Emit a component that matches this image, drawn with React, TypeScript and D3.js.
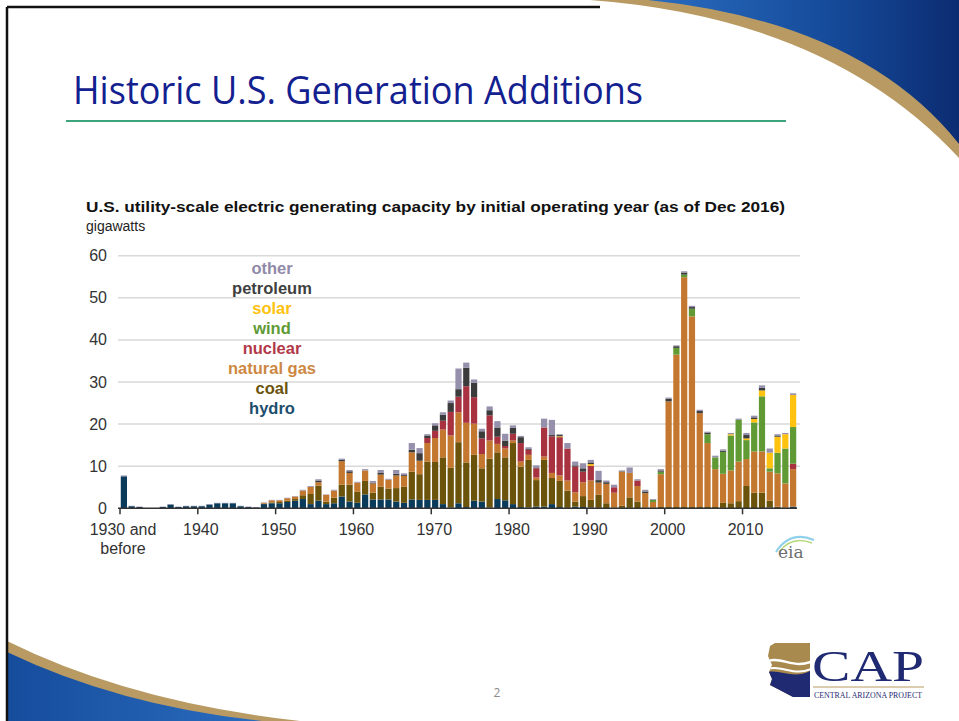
import React from 'react';
import * as d3 from 'd3';

const years: number[] = d3.range(1930, 2017);
const tickYears = [1930, 1940, 1950, 1960, 1970, 1980, 1990, 2000, 2010];
const yTicks = [0, 10, 20, 30, 40, 50, 60];

const hydro = [
  7.6, 0.5, 0.3, 0, 0, 0.3, 0.9, 0.3, 0.5, 0.5,
  0.5, 0.9, 1.2, 1.2, 1.2, 0.5, 0.3, 0.2, 1.0, 1.2,
  1.2, 1.5, 1.8, 2.2, 1.0, 1.8, 1.0, 1.2, 2.8, 1.6,
  1.3, 3.3, 2.1, 2.1, 2.1, 1.6, 1.3, 2.1, 2.0, 2.0,
  2.0, 1.0, 0.2, 1.2, 0.3, 1.8, 1.6, 0.2, 2.2, 1.9,
  1.0, 0.3, 0.2, 0.4, 0.4, 1.0, 0.3, 0.1, 0.4, 0.3,
  0.2, 0.1, 0, 0, 0.1, 0.1, 0, 0, 0, 0,
  0, 0, 0, 0, 0, 0, 0, 0.1, 0, 0,
  0, 0, 0, 0.2, 0, 0, 0.4,
];
const coal = [
  0, 0, 0, 0, 0, 0, 0, 0, 0, 0,
  0, 0, 0, 0, 0, 0, 0, 0, 0.1, 0.2,
  0.3, 0.3, 0.4, 0.9, 2.4, 3.6, 0.6, 1.3, 2.8, 4.0,
  2.6, 3.2, 1.6, 3.0, 2.6, 3.2, 3.8, 6.6, 6.1, 9.1,
  9.0, 11.1, 9.4, 14.5, 10.6, 10.9, 7.9, 11.6, 11.1, 10.2,
  14.5, 9.6, 11.3, 6.3, 11.1, 6.2, 6.2, 4.1, 1.2, 2.6,
  1.8, 3.1, 1.2, 0.2, 0.5, 2.5, 1.6, 0.2, 0.1, 0.3,
  0.3, 0.3, 0.3, 0.3, 0.3, 0.3, 0.3, 1.2, 1.2, 1.7,
  5.3, 3.7, 3.7, 1.6, 0.4, 0.2, 0,
];
const naturalGas = [
  0, 0, 0, 0, 0, 0, 0, 0, 0, 0,
  0, 0, 0, 0, 0, 0, 0, 0, 0.2, 0.5,
  0.4, 0.6, 0.6, 1.1, 1.7, 0.8, 1.6, 1.7, 5.6, 2.8,
  2.2, 2.5, 2.2, 2.9, 2.1, 3.0, 2.6, 4.6, 3.2, 4.4,
  5.7, 6.6, 7.7, 7.1, 9.4, 7.4, 3.4, 4.3, 2.0, 2.1,
  0.6, 1.2, 1.2, 0.6, 0.8, 1.2, 1.3, 2.4, 2.2, 3.3,
  4.6, 2.9, 4.6, 3.5, 8.1, 5.8, 3.7, 3.4, 1.4, 7.8,
  25.1, 36.2, 54.6, 45.3, 22.3, 15.2, 9.0, 6.9, 7.8, 9.4,
  6.4, 9.8, 9.8, 6.9, 7.9, 5.7, 8.9,
];
const nuclear = [
  0, 0, 0, 0, 0, 0, 0, 0, 0, 0,
  0, 0, 0, 0, 0, 0, 0, 0, 0, 0,
  0, 0, 0, 0, 0, 0, 0, 0, 0, 0,
  0, 0, 0, 0, 0, 0, 0, 0, 0, 1.2,
  1.7, 2.1, 5.6, 3.7, 8.7, 6.3, 3.7, 6.0, 1.7, 0.6,
  1.6, 4.4, 1.2, 2.2, 6.9, 8.7, 9.1, 7.6, 6.1, 2.5,
  3.5, 0, 0, 1.3, 0, 0, 1.3, 0, 0, 0,
  0, 0, 0, 0, 0, 0, 0, 0, 0, 0,
  0, 0, 0, 0, 0, 0, 1.3,
];
const wind = [
  0, 0, 0, 0, 0, 0, 0, 0, 0, 0,
  0, 0, 0, 0, 0, 0, 0, 0, 0, 0,
  0, 0, 0, 0, 0, 0, 0, 0, 0, 0,
  0, 0, 0, 0, 0, 0, 0, 0, 0, 0,
  0, 0, 0, 0, 0, 0, 0, 0, 0, 0,
  0, 0, 0, 0, 0, 0, 0, 0, 0, 0,
  0, 0, 0, 0, 0, 0, 0, 0, 0.5, 0.6,
  0, 1.6, 0.6, 1.8, 0, 2.1, 2.8, 5.2, 8.3, 9.9,
  4.5, 6.9, 13.1, 0.8, 4.9, 8.3, 8.7,
];
const solar = [
  0, 0, 0, 0, 0, 0, 0, 0, 0, 0,
  0, 0, 0, 0, 0, 0, 0, 0, 0, 0,
  0, 0, 0, 0, 0, 0, 0, 0, 0, 0,
  0, 0, 0, 0, 0, 0, 0, 0, 0, 0,
  0, 0, 0, 0, 0, 0, 0, 0, 0, 0,
  0, 0, 0, 0, 0, 0, 0.2, 0, 0, 0,
  0.4, 0, 0, 0, 0, 0, 0, 0, 0, 0,
  0, 0, 0, 0, 0, 0, 0, 0, 0.3, 0,
  0.4, 0.8, 1.4, 3.7, 3.8, 3.4, 7.6,
];
const petroleum = [
  0, 0, 0, 0, 0, 0, 0, 0, 0, 0,
  0, 0, 0, 0, 0, 0, 0, 0, 0, 0,
  0, 0, 0, 0, 0, 0.4, 0, 0, 0.3, 0.4,
  0, 0, 0.2, 0.5, 0, 0.4, 0.2, 0.6, 1.8, 0.6,
  1.3, 1.4, 2.1, 1.8, 4.4, 3.4, 1.7, 1.2, 2.2, 1.3,
  1.4, 1.4, 0.2, 0.2, 0, 0.3, 0.3, 0, 0.3, 0.8,
  0.4, 0.6, 0.4, 0, 0.1, 0, 0, 0.4, 0, 0.3,
  0.6, 0.4, 0.5, 0.4, 0.5, 0.4, 0, 0.3, 0, 0,
  0.8, 0.4, 0.6, 0, 0.3, 0, 0,
];
const other = [
  0.2, 0.1, 0.1, 0, 0, 0.1, 0.1, 0.1, 0.1, 0.1,
  0.1, 0.1, 0.1, 0.1, 0.1, 0.1, 0.1, 0.1, 0.1, 0.1,
  0.1, 0.1, 0.1, 0.2, 0.2, 0.3, 0.1, 0.2, 0.3, 0.3,
  0.2, 0.3, 0.4, 0.6, 0.2, 0.9, 0.4, 1.6, 1.2, 0.3,
  0.5, 0.6, 0.6, 4.9, 1.2, 0.8, 0.6, 0.9, 1.5, 1.6,
  0.6, 0.3, 0.4, 0.5, 2.1, 3.6, 0.2, 1.3, 0.9, 1.2,
  0.6, 2.2, 0.4, 0.6, 0.2, 1.3, 0.3, 0.4, 0.2, 0.3,
  0.3, 0.2, 0.3, 0.3, 0.3, 0.2, 0.4, 0.3, 0.3, 0.3,
  0.5, 0.4, 0.6, 1.0, 0.3, 0.3, 0.4,
];

const seriesKeys = ['hydro', 'coal', 'natural gas', 'nuclear', 'wind', 'solar', 'petroleum', 'other'];
const seriesValues = [hydro, coal, naturalGas, nuclear, wind, solar, petroleum, other];
const barColors = ['#0b3b5a', '#6b530b', '#c4782f', '#a8323f', '#5f9a35', '#ffc20e', '#3b3b3b', '#9690ad'];
const legendColors = ['#1d4e6e', '#6b530b', '#cc8843', '#b2394a', '#5f9a35', '#ffc20e', '#3f3f3f', '#9189a8'];

export default function App() {
  const rows = years.map((yr, i) => {
    const r: any = { year: yr };
    seriesKeys.forEach((k, j) => (r[k] = seriesValues[j][i]));
    return r;
  });
  const stacked = d3.stack<any>().keys(seriesKeys)(rows);

  const x = d3.scaleBand<number>().domain(years).range([120, 797]).paddingInner(0.2).paddingOuter(0.1);
  const y = d3.scaleLinear().domain([0, 60]).range([508.3, 255.7]);
  const step = x.step();
  const tickX = (yr: number) => (x(yr) as number) - step * 0.1;

  const axisFont = '"Liberation Sans", Arial, sans-serif';
  const legendOrder = [7, 6, 5, 4, 3, 2, 1, 0];

  return (
    <svg width={959} height={721} style={{ position: 'absolute', left: 0, top: 0, background: '#fff' }}>
      <defs>
        <linearGradient id="blueTR" x1="0" y1="0" x2="1" y2="0">
          <stop offset="0" stopColor="#2a6cc0" />
          <stop offset="0.6" stopColor="#154a99" />
          <stop offset="1" stopColor="#0c2c72" />
        </linearGradient>
        <linearGradient id="blueBL" x1="0" y1="0" x2="1" y2="0">
          <stop offset="0" stopColor="#164c9c" />
          <stop offset="1" stopColor="#2a6cbf" />
        </linearGradient>
        <clipPath id="azClip">
          <path d="M770,646 L775,643 L810,643 L810,697 L793,697 L770,685 L772,679 L769,672 L772,665 L768,656 Z" />
        </clipPath>
      </defs>
      <rect x={0} y={0} width={959} height={721} fill="#ffffff" />
      {/* top-right swoosh */}
      <path d="M590,0 Q830,18 959,158 L959,0 Z" fill="#b89a62" />
      <path d="M648,0 Q862,22 959,144 L959,0 Z" fill="url(#blueTR)" />
      {/* bottom-left swoosh */}
      <path d="M7,641 Q130,702 300,721 L7,721 Z" fill="#b89a62" />
      <path d="M7,652 Q120,706 262,721 L7,721 Z" fill="url(#blueBL)" />
      {/* frame */}
      <line x1={7} y1={7} x2={7} y2={721} stroke="#111" strokeWidth={2.5} />
      <line x1={7} y1={7} x2={600} y2={7} stroke="#111" strokeWidth={2.5} />

      {/* slide title */}
      <text x={73} y={104} fontFamily='"Open Sans", sans-serif' fontSize={38} fill="#13208f" textLength={570} lengthAdjust="spacingAndGlyphs">
        Historic U.S. Generation Additions
      </text>
      <line x1={66} y1={121} x2={786} y2={121} stroke="#3da37c" strokeWidth={2} />

      {/* chart title */}
      <text x={86} y={212} fontFamily={axisFont} fontWeight="bold" fontSize={14} fill="#111" textLength={699} lengthAdjust="spacingAndGlyphs">
        U.S. utility-scale electric generating capacity by initial operating year (as of Dec 2016)
      </text>
      <text x={86} y={231} fontFamily={axisFont} fontSize={14} fill="#222">gigawatts</text>

      {/* gridlines and y labels */}
      {yTicks.map((t) => (
        <g key={t}>
          {t > 0 && <line x1={118} x2={800} y1={y(t)} y2={y(t)} stroke="#d9d9d9" strokeWidth={1.5} />}
          <text x={107} y={y(t) + 5.5} textAnchor="end" fontFamily={axisFont} fontSize={16} fill="#333">{t}</text>
        </g>
      ))}

      {/* bars */}
      {stacked.map((s, si) => (
        <g key={s.key} fill={barColors[si]}>
          {s.map((d, i) => {
            const h = y(d[0]) - y(d[1]);
            if (h <= 0) return null;
            return <rect key={i} x={x(years[i])} width={x.bandwidth()} y={y(d[1])} height={h} />;
          })}
        </g>
      ))}

      {/* x axis */}
      <line x1={118} x2={797} y1={y(0)} y2={y(0)} stroke="#333" strokeWidth={1.5} />
      {tickYears.map((t) => (
        <g key={t}>
          <line x1={tickX(t)} x2={tickX(t)} y1={y(0)} y2={y(0) + 6} stroke="#333" strokeWidth={1.5} />
          {t === 1930 ? (
            <text x={tickX(t) + 3} y={535} textAnchor="middle" fontFamily={axisFont} fontSize={16} fill="#333">
              <tspan x={tickX(t) + 3} dy={0}>1930 and</tspan>
              <tspan x={tickX(t) + 3} dy={19}>before</tspan>
            </text>
          ) : (
            <text x={tickX(t) + 3} y={535} textAnchor="middle" fontFamily={axisFont} fontSize={16} fill="#333">{t}</text>
          )}
        </g>
      ))}

      {/* legend */}
      {legendOrder.map((si, k) => (
        <text key={si} x={272} y={274 + k * 20} textAnchor="middle" fontFamily={axisFont} fontWeight="bold" fontSize={16.5} fill={legendColors[si]}>
          {seriesKeys[si]}
        </text>
      ))}

      {/* eia logo */}
      <path d="M776,552 Q790,530 814,540" fill="none" stroke="#8fd0ea" strokeWidth={2} />
      <path d="M779,552 Q792,535 812,543" fill="none" stroke="#b6d77a" strokeWidth={1.5} />
      <text x={778} y={558} fontFamily='"DejaVu Serif", serif' fontSize={17} fill="#6e6e6e">eia</text>

      {/* page number */}
      <text x={497} y={697} textAnchor="middle" fontFamily='"Open Sans", sans-serif' fontSize={12} fill="#8a8a8a">2</text>

      {/* CAP logo */}
      <g>
        <path d="M770,646 L775,643 L810,643 L810,697 L793,697 L770,685 L772,679 L769,672 L772,665 L768,656 Z" fill="#a88a4e" />
        <g clipPath="url(#azClip)">
          <path d="M760,675 C778,664 792,684 815,668 L815,705 L760,705 Z" fill="#1f2a72" />
          <path d="M762,664 C780,652 792,672 815,660" fill="none" stroke="#ffffff" strokeWidth={2.5} />
          <path d="M762,672 C780,660 792,680 815,667" fill="none" stroke="#ffffff" strokeWidth={2} />
        </g>
        <text x={812} y={681} fontFamily='"Liberation Serif", "DejaVu Serif", serif' fontSize={44} fill="#1f2a72" textLength={112} lengthAdjust="spacingAndGlyphs">CAP</text>
        <line x1={813} x2={924} y1={687} y2={687} stroke="#b89a62" strokeWidth={1} />
        <text x={814} y={698} fontFamily='"Liberation Serif", serif' fontSize={7.5} fill="#1f2a72" textLength={108} lengthAdjust="spacingAndGlyphs">CENTRAL ARIZONA PROJECT</text>
      </g>
    </svg>
  );
}
